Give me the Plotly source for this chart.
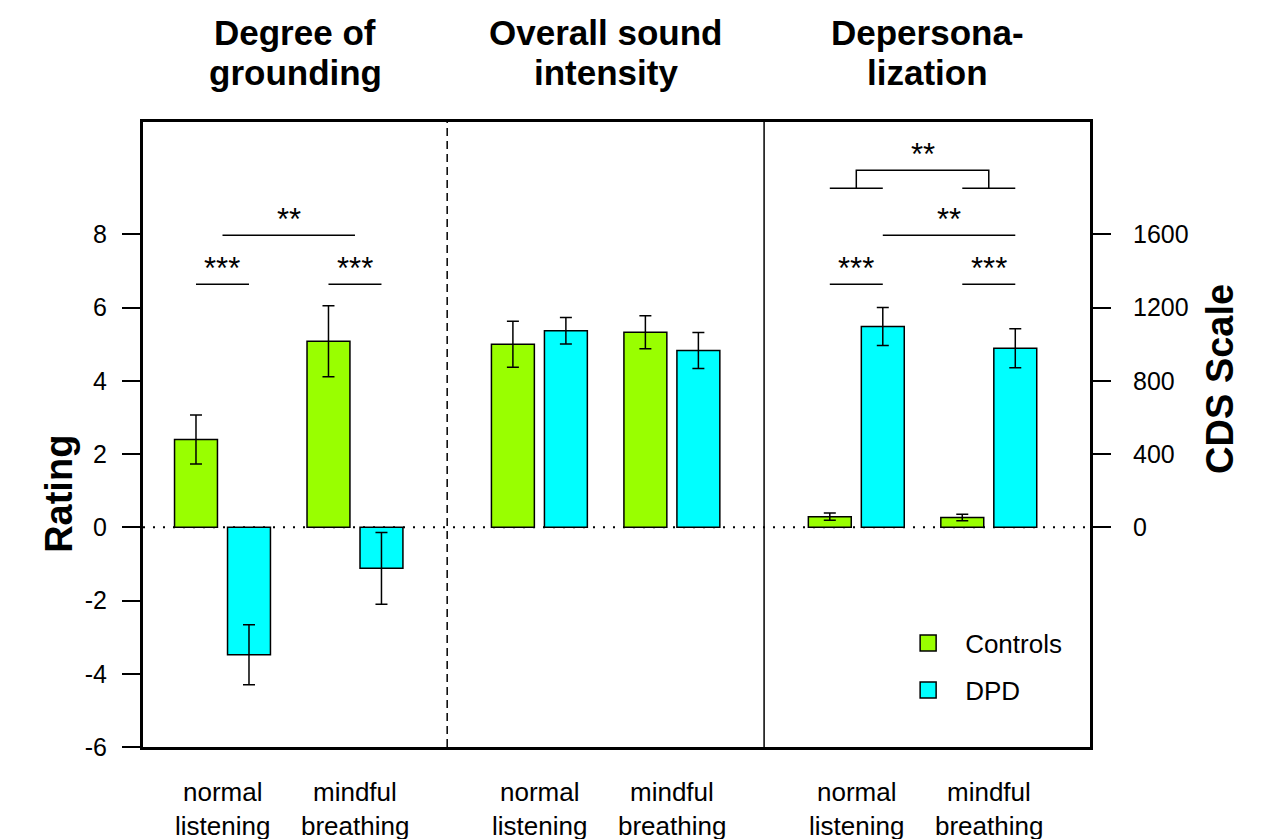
import plotly.graph_objects as go

# ---------------- data ----------------
conditions = [["normal", "listening"], ["mindful", "breathing"]]
panels = [["Degree of", "grounding"], ["Overall sound", "intensity"], ["Depersona-", "lization"]]
groups = ["Controls", "DPD"]

grounding_controls = [2.40, 5.08]
grounding_controls_err = [0.67, 0.97]
grounding_dpd = [-3.48, -1.12]
grounding_dpd_err = [0.82, 0.98]

intensity_controls = [5.00, 5.33]
intensity_controls_err = [0.63, 0.45]
intensity_dpd = [5.37, 4.83]
intensity_dpd_err = [0.36, 0.49]

cds_controls = [58, 54]
cds_controls_err = [20, 18]
cds_dpd = [1097, 978]
cds_dpd_err = [104, 106]

rating_ticks = [-6, -4, -2, 0, 2, 4, 6, 8]
rating_ticktext = ["-6", "-4", "-2", "0", "2", "4", "6", "8"]
cds_ticks = [0, 400, 800, 1200, 1600]

# ---------------- layout constants ----------------
GREEN = "#99FF00"
CYAN = "#00FFFF"
PANEL_STEP = 5.98
COND_STEP = 2.5
BAR_W = 0.81
X_MAX = 17.87
Y_MIN, Y_MAX = -6, 11.07
CDS_FACTOR = 200.0
FONT = "Liberation Sans, Arial, sans-serif"


def xpos(p, c, g):
    return 1.0 + PANEL_STEP * p + COND_STEP * c + g


fig = go.Figure()

series = [
    (0, 0, grounding_controls, grounding_controls_err, "y"),
    (0, 1, grounding_dpd, grounding_dpd_err, "y"),
    (1, 0, intensity_controls, intensity_controls_err, "y"),
    (1, 1, intensity_dpd, intensity_dpd_err, "y"),
    (2, 0, cds_controls, cds_controls_err, "y2"),
    (2, 1, cds_dpd, cds_dpd_err, "y2"),
]
for p, g, vals, errs, yax in series:
    fig.add_trace(go.Bar(
        x=[xpos(p, c, g) for c in range(2)], y=vals, width=BAR_W,
        marker=dict(color=GREEN if g == 0 else CYAN, line=dict(color="black", width=1.5)),
        error_y=dict(type="data", array=errs, color="black", thickness=1.5, width=6),
        yaxis=yax, showlegend=False, name=groups[g],
    ))

# legend entries (one legend per row for exact spacing)
legend_names = ["legend", "legend2"]
for g in range(2):
    fig.add_trace(go.Scatter(
        x=[None], y=[None], mode="markers", name=groups[g], legend=legend_names[g],
        marker=dict(symbol="square", size=16, color=GREEN if g == 0 else CYAN,
                    line=dict(color="black", width=1.5)),
    ))

shapes = []
# zero dotted line
shapes.append(dict(type="line", xref="x", yref="y", x0=0, x1=X_MAX, y0=0, y1=0,
                   line=dict(color="black", width=2, dash="2px,8px"), layer="below"))
# panel dividers
div1 = (xpos(0, 1, 1) + xpos(1, 0, 0)) / 2
div2 = (xpos(1, 1, 1) + xpos(2, 0, 0)) / 2
shapes.append(dict(type="line", xref="x", yref="paper", x0=div1, x1=div1, y0=0, y1=1,
                   line=dict(color="black", width=1.5, dash="8px,5px")))
shapes.append(dict(type="line", xref="x", yref="paper", x0=div2, x1=div2, y0=0, y1=1,
                   line=dict(color="black", width=1.5)))

annotations = []
TXT_OFF = 0.42


def sig_line(x0, x1, y, label):
    shapes.append(dict(type="line", xref="x", yref="y", x0=x0, x1=x1, y0=y, y1=y,
                       line=dict(color="black", width=1.5)))
    annotations.append(dict(x=(x0 + x1) / 2, y=y + TXT_OFF, xref="x", yref="y", text=label,
                            showarrow=False, font=dict(size=31, color="black")))


# panel 1
sig_line(xpos(0, 0, 0), xpos(0, 0, 1), 6.64, "***")
sig_line(xpos(0, 1, 0), xpos(0, 1, 1), 6.64, "***")
sig_line((xpos(0, 0, 0) + xpos(0, 0, 1)) / 2, (xpos(0, 1, 0) + xpos(0, 1, 1)) / 2, 7.98, "**")
# panel 3
sig_line(xpos(2, 0, 0), xpos(2, 0, 1), 6.64, "***")
sig_line(xpos(2, 1, 0), xpos(2, 1, 1), 6.64, "***")
sig_line(xpos(2, 0, 1), xpos(2, 1, 1), 7.98, "**")
# bracket
for c in range(2):
    shapes.append(dict(type="line", xref="x", yref="y", x0=xpos(2, c, 0), x1=xpos(2, c, 1),
                       y0=9.26, y1=9.26, line=dict(color="black", width=1.5)))
m0 = (xpos(2, 0, 0) + xpos(2, 0, 1)) / 2
m1 = (xpos(2, 1, 0) + xpos(2, 1, 1)) / 2
shapes.append(dict(type="path", xref="x", yref="y",
                   path=f"M {m0} 9.26 L {m0} 9.75 L {m1} 9.75 L {m1} 9.26",
                   line=dict(color="black", width=1.5)))
annotations.append(dict(x=(m0 + m1) / 2, y=9.75 + TXT_OFF, xref="x", yref="y", text="**",
                        showarrow=False, font=dict(size=31, color="black")))

# condition labels (two lines each)
for p in range(3):
    for c in range(2):
        for li, shift in enumerate([-45, -79]):
            annotations.append(dict(x=(xpos(p, c, 0) + xpos(p, c, 1)) / 2, y=0, xref="x",
                                    yref="paper", yanchor="middle", yshift=shift,
                                    text=conditions[c][li], showarrow=False,
                                    font=dict(size=26, color="black")))

# panel titles
edges = [0, div1, div2, X_MAX]
for p in range(3):
    for li, shift in enumerate([90, 50]):
        annotations.append(dict(x=(edges[p] + edges[p + 1]) / 2, y=1, xref="x", yref="paper",
                                yanchor="middle", yshift=shift, text=f"<b>{panels[p][li]}</b>",
                                showarrow=False, font=dict(size=35, color="black")))

# axis titles
annotations.append(dict(x=-0.113, y=0.405, xref="paper", yref="paper", text="<b>Rating</b>",
                        textangle=-90, showarrow=False, font=dict(size=38, color="black")))
annotations.append(dict(x=1.1616, y=0.589, xref="paper", yref="paper", text="<b>CDS Scale</b>",
                        textangle=-90, showarrow=False, font=dict(size=38, color="black")))

legend_common = dict(xanchor="left", yanchor="middle", font=dict(size=26, family=FONT),
                     bgcolor="rgba(0,0,0,0)", itemwidth=64)

fig.update_layout(
    width=1266, height=839,
    margin=dict(l=135, r=184, t=114, b=100),
    paper_bgcolor="white", plot_bgcolor="white",
    font=dict(family=FONT, color="black"),
    barmode="overlay",
    shapes=shapes, annotations=annotations,
    xaxis=dict(range=[0, X_MAX], showgrid=False, zeroline=False, showticklabels=False,
               ticks="", showline=True, linecolor="black", linewidth=3, mirror=True),
    yaxis=dict(range=[Y_MIN, Y_MAX], tickvals=rating_ticks, ticktext=rating_ticktext,
               showgrid=False, zeroline=False,
               ticks="outside", ticklen=18, tickwidth=1.5, tickcolor="black",
               showline=True, linecolor="black", linewidth=3, mirror=True,
               tickfont=dict(size=25), ticklabelstandoff=10),
    yaxis2=dict(range=[Y_MIN * CDS_FACTOR, Y_MAX * CDS_FACTOR], tickvals=cds_ticks,
                overlaying="y", side="right", showgrid=False, zeroline=False,
                ticks="outside", ticklen=18, tickwidth=1.5, tickcolor="black",
                showline=True, linecolor="black", linewidth=3,
                tickfont=dict(size=25), ticklabelstandoff=17),
    legend=dict(x=0.790, y=0.1664, **legend_common),
    legend2=dict(x=0.790, y=0.0912, **legend_common),
)

fig.write_html("out.html")
